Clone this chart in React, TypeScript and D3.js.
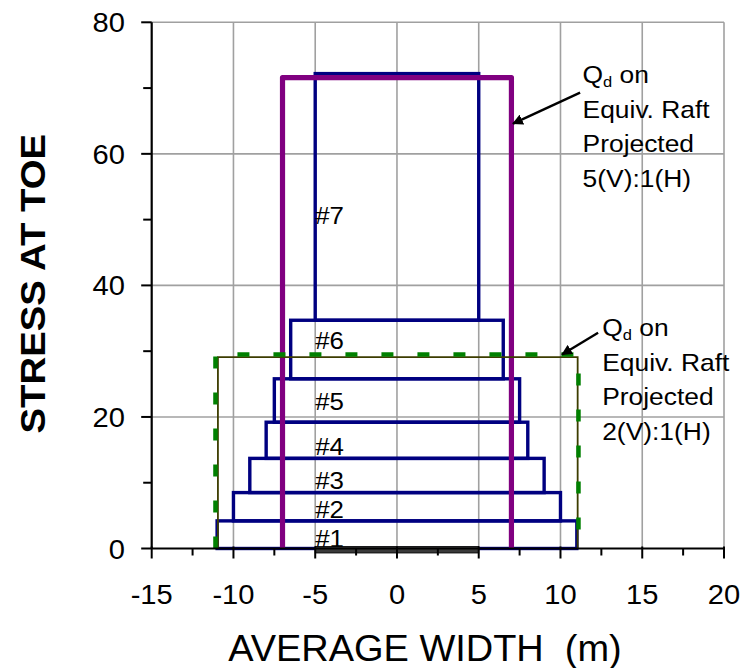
import React from "react";
import * as d3 from "d3";

// ---- data ----
const xTicks = [-15, -10, -5, 0, 5, 10, 15, 20];
const xMinorTicks = [-12.5, -7.5, -2.5, 2.5, 7.5, 12.5, 17.5];
const yTicks = [0, 20, 40, 60, 80];
const yMinorTicks = [10, 30, 50, 70];
const xGrid = [-10, -5, 0, 5, 10, 15, 20];
const yGrid = [20, 40, 60, 80];

const blockNames = ["#1", "#2", "#3", "#4", "#5", "#6", "#7"];
const blockHalfWidth = [11, 10, 9, 8, 7.5, 6.5, 5];
const blockTop = [4.2, 8.5, 13.7, 19.2, 25.8, 34.7, 72.2];
const blockLabelX = -5;
const blockLabelY = [0.2, 4.7, 9.0, 14.2, 21.0, 30.4, 49.3];

const raft5HalfWidth = 7;
const raft5Stress = 71.6;
const raft2HalfWidth = 11.1;
const raft2Stress = 29.5;
const raft2OutlineX = [-10.95, 11.05];
const raft2OutlineStress = 29.1;
const footingX = [-5, 5];

const note5Lines = ["Equiv. Raft", "Projected", "5(V):1(H)"];
const note2Lines = ["Equiv. Raft", "Projected", "2(V):1(H)"];
// annotation anchors in data coordinates
const note5Anchor = [11.35, 70.7];
const note2Anchor = [12.55, 32.3];
const arrow5 = [[11.2, 69.3], [7.1, 64.6]];
const arrow2 = [[12.3, 32.8], [10.1, 29.5]];

const W = 743;
const H = 668;
const FONT = "'Liberation Sans', Arial, Helvetica, sans-serif";

const x = d3.scaleLinear().domain([-15, 20]).range([151.7, 724]);
const y = d3.scaleLinear().domain([0, 80]).range([548.5, 22.3]);

function SText({ x: px, y: py, sx = 1, size, anchor = "start", weight = "normal", children, rotate = 0 }: any) {
  return (
    <text
      transform={`translate(${px},${py}) rotate(${rotate}) scale(${sx},1)`}
      fontSize={size}
      fontFamily={FONT}
      fontWeight={weight}
      textAnchor={anchor}
      fill="#000"
      style={{ whiteSpace: "pre" }}
    >
      {children}
    </text>
  );
}

function Note({ anchor, lines }: { anchor: number[]; lines: string[] }) {
  const px = x(anchor[0]);
  const py = y(anchor[1]);
  const lh = 34.5;
  return (
    <g>
      <text
        transform={`translate(${px},${py}) scale(1.1,1)`}
        fontSize={24}
        fontFamily={FONT}
        fill="#000"
        style={{ whiteSpace: "pre" }}
      >
        <tspan>Q</tspan>
        <tspan fontSize={15} dy={4}>d</tspan>
        <tspan dy={-4}> on</tspan>
      </text>
      {lines.map((l, i) => (
        <SText key={i} x={px} y={py + lh * (i + 1)} sx={1.1} size={24}>
          {l}
        </SText>
      ))}
    </g>
  );
}

export default function App() {
  const line = d3.line<number[]>().x((d) => x(d[0])).y((d) => y(d[1]));

  const blocks = blockNames.map((name, i) => {
    const bottom = i === 0 ? 0 : blockTop[i - 1];
    const hw = blockHalfWidth[i];
    return {
      name,
      x0: x(-hw),
      x1: x(hw),
      y0: y(blockTop[i]),
      y1: y(bottom),
    };
  });

  const raft5 = line([
    [-raft5HalfWidth, 0],
    [-raft5HalfWidth, raft5Stress],
    [raft5HalfWidth, raft5Stress],
    [raft5HalfWidth, 0],
  ]);
  const raft2 = line([
    [-raft2HalfWidth, 0],
    [-raft2HalfWidth, raft2Stress],
    [raft2HalfWidth, raft2Stress],
    [raft2HalfWidth, 0],
  ]);
  const raft2Outline = line([
    [raft2OutlineX[0], 0],
    [raft2OutlineX[0], raft2OutlineStress],
    [raft2OutlineX[1], raft2OutlineStress],
    [raft2OutlineX[1], 0],
  ]);

  return (
    <svg
      width={W}
      height={H}
      style={{ position: "absolute", left: 0, top: 0, background: "#fff" }}
    >
      <defs>
        <marker id="ah" viewBox="0 0 10 10" refX="9" refY="5" markerWidth="4.5" markerHeight="4.5" orient="auto">
          <path d="M0,0 L10,5 L0,10 z" fill="#000" />
        </marker>
      </defs>
      <rect x={0} y={0} width={W} height={H} fill="#fff" />

      {/* gridlines */}
      {xGrid.map((v) => (
        <line key={"gx" + v} x1={x(v)} x2={x(v)} y1={y(0)} y2={y(80)} stroke="#a0a0a0" strokeWidth={1.6} />
      ))}
      {yGrid.map((v) => (
        <line key={"gy" + v} x1={x(-15)} x2={x(20)} y1={y(v)} y2={y(v)} stroke="#a0a0a0" strokeWidth={1.6} />
      ))}

      {/* blocks */}
      {blocks.map((b) => (
        <rect
          key={b.name}
          x={b.x0}
          y={b.y0}
          width={b.x1 - b.x0}
          height={b.y1 - b.y0}
          fill="none"
          stroke="#000080"
          strokeWidth={3.4}
        />
      ))}

      {/* raft 5:1 */}
      <path d={raft5 || ""} fill="none" stroke="#800080" strokeWidth={5.2} strokeLinejoin="round" />

      {/* raft 2:1 */}
      <path d={raft2Outline || ""} fill="none" stroke="#3d3d00" strokeWidth={1.8} />
      <path d={raft2 || ""} fill="none" stroke="#008000" strokeWidth={4.5} strokeDasharray="12 24" />

      {/* block labels */}
      {blockNames.map((n, i) => (
        <SText key={"l" + n} x={x(blockLabelX)} y={y(blockLabelY[i])} sx={1.1} size={23.5}>
          {n}
        </SText>
      ))}

      {/* footing bar */}
      <rect
        x={x(footingX[0])}
        y={y(0) - 2}
        width={x(footingX[1]) - x(footingX[0])}
        height={6.5}
        fill="#3a3a3a"
        stroke="#000"
        strokeWidth={0.8}
      />

      {/* axes */}
      <line x1={x(-15)} x2={x(-15)} y1={y(0)} y2={y(80)} stroke="#000" strokeWidth={2.2} />
      <line x1={x(-15)} x2={x(20)} y1={y(0)} y2={y(0)} stroke="#000" strokeWidth={2.2} />
      {yTicks.map((v) => (
        <line key={"yt" + v} x1={x(-15) - 10.5} x2={x(-15)} y1={y(v)} y2={y(v)} stroke="#000" strokeWidth={2} />
      ))}
      {yMinorTicks.map((v) => (
        <line key={"ym" + v} x1={x(-15) - 8.5} x2={x(-15)} y1={y(v)} y2={y(v)} stroke="#000" strokeWidth={2} />
      ))}
      {xTicks.map((v) => (
        <line key={"xt" + v} x1={x(v)} x2={x(v)} y1={y(0) - 2} y2={y(0) + 10} stroke="#000" strokeWidth={2} />
      ))}
      {xMinorTicks.map((v) => (
        <line key={"xm" + v} x1={x(v)} x2={x(v)} y1={y(0)} y2={y(0) + 7} stroke="#000" strokeWidth={2} />
      ))}

      {/* tick labels */}
      {yTicks.map((v) => (
        <SText key={"yl" + v} x={125} y={y(v) + 10} sx={1.04} size={28} anchor="end">
          {String(v)}
        </SText>
      ))}
      {xTicks.map((v) => (
        <SText key={"xl" + v} x={x(v)} y={603.5} sx={1.04} size={28} anchor="middle">
          {String(v)}
        </SText>
      ))}

      {/* axis titles */}
      <SText x={425} y={660.7} sx={1.04} size={36.5} anchor="middle">
        {"AVERAGE WIDTH  (m)"}
      </SText>
      <SText x={45} y={283.7} sx={1.08} size={35.5} anchor="middle" weight="bold" rotate={-90}>
        {"STRESS AT TOE"}
      </SText>

      {/* annotations */}
      <Note anchor={note5Anchor} lines={note5Lines} />
      <Note anchor={note2Anchor} lines={note2Lines} />
      <path d={line(arrow5) || ""} stroke="#000" strokeWidth={2.4} fill="none" markerEnd="url(#ah)" />
      <path d={line(arrow2) || ""} stroke="#000" strokeWidth={2.4} fill="none" markerEnd="url(#ah)" />
    </svg>
  );
}
